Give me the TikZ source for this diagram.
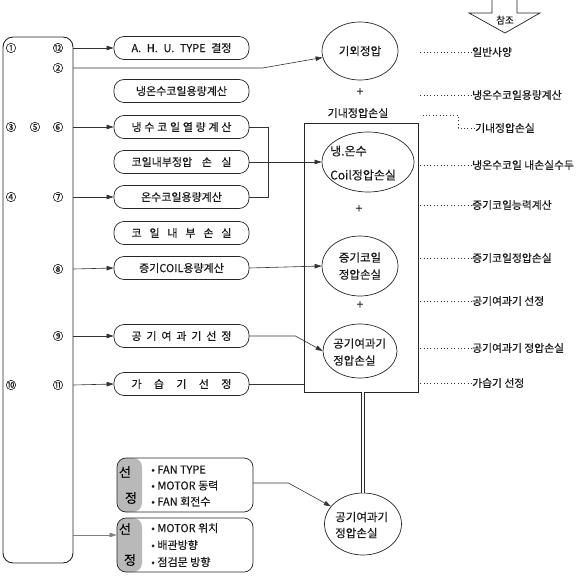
\documentclass[tikz,border=0pt]{standalone}
\usepackage{fontspec}
\setmainfont{Noto Sans CJK KR}[FakeBold=0.4]
\usetikzlibrary{shapes.geometric,arrows.meta,calc}
\begin{document}
\begin{tikzpicture}[x=1pt,y=-1pt,
  every node/.style={text=black!90},
  pill/.style={draw=black!85, rounded corners=10pt, minimum width=135pt, minimum height=23pt, inner sep=0pt, font=\fontsize{11}{12}\selectfont, line width=0.7pt},
  ell/.style={draw=black!85, ellipse, inner sep=0pt, line width=0.7pt},
  etext/.style={font=\fontsize{11.5}{17}\selectfont, align=left, inner sep=0pt},
  num/.style={font=\fontsize{10.5}{11}\selectfont, inner sep=0pt},
  con/.style={line width=0.6pt, draw=black!80},
  arr/.style={con, -{Triangle[length=7pt,width=4.5pt]}},
  lab/.style={anchor=west, font=\fontsize{10.8}{12}\selectfont, inner sep=0pt},
  dots/.style={line width=0.8pt, draw=black!80, dash pattern=on 0.8pt off 2.6pt},
  selbox/.style={draw=black!85, rounded corners=9pt, minimum width=136pt, minimum height=54pt, inner sep=0pt, line width=0.7pt,
    path picture={\fill[gray!55] (path picture bounding box.south west) rectangle ($(path picture bounding box.north west)+(25,0)$);}},
  seltxt/.style={font=\fontsize{13}{13}\selectfont, inner sep=0.5pt, text=black},
  bullets/.style={anchor=west, align=left, inner sep=0pt},
]
\useasboundingbox (0,0) rectangle (580,575);

% reference arrow
\draw[line width=0.7pt, draw=black!85, fill=white] (492,-2) -- (492,13) -- (469,13) -- (505,33) -- (540,13) -- (517,13) -- (517,-2);
\node[font=\fontsize{9.5}{10}\selectfont, inner sep=0pt] (ref) at (505,20) {참조};

% left tall box
\node[draw=black!85, rounded corners=10pt, line width=0.9pt, minimum width=70pt, minimum height=526pt, inner sep=0pt] (L) at (38,300) {};

\node[num] (c1) at (11,48) {①};
\node[num] (c12) at (58,48) {⑫};
\node[num] (c2) at (58,68) {②};
\node[num] (c3) at (11,127) {③};
\node[num] (c5) at (35,127) {⑤};
\node[num] (c6) at (58,127) {⑥};
\node[num] (c4) at (11,197) {④};
\node[num] (c7) at (58,197) {⑦};
\node[num] (c8) at (58,269) {⑧};
\node[num] (c9) at (58,336) {⑨};
\node[num] (c10) at (11,385) {⑩};
\node[num] (c11) at (58,385) {⑪};

% pills
\node[pill] (pA) at (181.5,48) {\makebox[100pt][s]{A.\hfill H.\hfill U.\hfill TYPE\hfill 결정}};
\node[pill] (pB) at (181.5,91) {냉온수코일용량계산};
\node[pill] (pC) at (181.5,127) {\makebox[100pt][s]{냉\hfill 수\hfill 코\hfill 일\hfill 열\hfill 량\hfill 계\hfill 산}};
\node[pill] (pD) at (181.5,162) {\makebox[100pt][s]{코일내부정압\hfill 손\hfill 실}};
\node[pill] (pE) at (181.5,197) {온수코일용량계산};
\node[pill] (pF) at (181.5,233) {\makebox[100pt][s]{코\hfill 일\hfill 내\hfill 부\hfill 손\hfill 실}};
\node[pill] (pG) at (181.5,268) {증기COIL용량계산};
\node[pill] (pH) at (181.5,336) {\makebox[100pt][s]{공\hfill 기\hfill 여\hfill 과\hfill 기\hfill 선\hfill 정}};
\node[pill] (pI) at (181.5,384) {\makebox[100pt][s]{가\hfill 습\hfill 기\hfill 선\hfill 정}};

% top ellipse
\node[ell, minimum width=76pt, minimum height=58pt] (e1) at (360,51) {};
\node[etext] (e1t) at (e1) {기외정압};
\node[font=\fontsize{12}{12}\selectfont, inner sep=0pt] (plus1) at (360,92) {+};
\node[font=\fontsize{11}{12}\selectfont, inner sep=0pt] (gn) at (358,113) {기내정압손실};

% big rectangle
\node[draw=black!85, line width=0.8pt, minimum width=114pt, minimum height=269pt, inner sep=0pt] (R) at (361,257.5) {};

\node[ell, minimum width=92pt, minimum height=60pt] (e2) at (368,162) {};
\node[etext, anchor=west, font=\fontsize{12}{24}\selectfont] (e2t) at (330,163) {냉.온수\\Coil정압손실};
\node[font=\fontsize{12}{12}\selectfont, inner sep=0pt] (plus2) at (359,209) {+};
\node[ell, minimum width=76pt, minimum height=60pt] (e3) at (360,266) {};
\node[etext, align=center] (e3t) at (e3) {증기코일\\정압손실};
\node[font=\fontsize{12}{12}\selectfont, inner sep=0pt] (plus3) at (360,305) {+};
\node[ell, minimum width=74pt, minimum height=54pt] (e4) at (360,351) {};
\node[etext, anchor=west] (e4t) at (333,352) {공기여과기\\정압손실};

% bottom ellipse
\node[ell, minimum width=77pt, minimum height=62pt] (e5) at (363,524) {};
\node[etext, anchor=west, font=\fontsize{11.5}{16}\selectfont] (e5t) at (335,525) {공기여과기\\정압손실};

% selection boxes
\node[selbox] (S1) at (185,485) {};
\node[seltxt] (s1a) at (125,472) {선};
\node[seltxt] (s1b) at (131,498) {정};
\node[bullets, font=\fontsize{11}{16}\selectfont] (s1l) at (151,486) {• FAN TYPE\\• MOTOR 동력\\• FAN 회전수};
\node[selbox] (S2) at (185,545) {};
\node[seltxt] (s2a) at (125,529) {선};
\node[seltxt] (s2b) at (130,560) {정};
\node[bullets, font=\fontsize{11}{17}\selectfont] (s2l) at (151,545) {• MOTOR 위치\\• 배관방향\\• 점검문 방향};

% connectors from left box
\draw[arr] (c12 -| L.east) -- (pA.west);
\draw[arr] (c2 -| L.east) -- ++(189,0) -- (e1);
\draw[arr] (c6 -| L.east) -- (pC.west);
\draw[arr] (c7 -| L.east) -- (pE.west);
\draw[arr] (c8 -| L.east) -- (pG.west);
\draw[arr] (c9 -| L.east) -- (pH.west);
\draw[arr] (c11 -| L.east) -- (pI.west);
\coordinate (s2in) at ($(S2.west)+(0,-10)$);
\draw[arr, draw=black!50] (s2in -| L.east) -- (s2in);

% connectors to the right
\draw[con] (pC.east) -- ++(19,0) |- (pE.east);
\draw[arr] (pD.east) -- (e2.west);
\draw[arr] (pG.east) -- (e3.west);
\draw[arr] (pH.east) -- ++(46,0) -- (e4.west);
\draw[con] (pI.east) -- (pI.east -| R.west);
\draw[arr] ($(S1.east)+(0,-2)$) -- ++(35,0) -- (e5);
\draw[double=white, double distance=2.6pt, line width=0.7pt, draw=black!85] (e5 |- R.south) -- (e5.north);

% reference labels
\node[lab] (r1) at (472,52) {일반사양};
\draw[dots] (r1.west) -- ++(-52,0);
\node[lab] (r2) at (472,95) {냉온수코일용량계산};
\draw[dots] (r2.west) -- ++(-52,0);
\node[lab] (r3) at (475,128) {기내정압손실};
\draw[dots] (r3.west) -- ++(-17,0) |- ++(-38,-13);
\node[lab] (r4) at (472,165) {냉온수코일 내손실수두};
\draw[dots] (r4.west) -- ++(-52,0);
\node[lab] (r5) at (472,205) {증기코일능력계산};
\draw[dots] (r5.west) -- ++(-52,0);
\node[lab] (r6) at (472,258) {증기코일정압손실};
\draw[dots] (r6.west) -- ++(-52,0);
\node[lab] (r7) at (472,301) {공기여과기 선정};
\draw[dots] (r7.west) -- ++(-52,0);
\node[lab] (r8) at (472,348) {공기여과기 정압손실};
\draw[dots] (r8.west) -- ++(-52,0);
\node[lab] (r9) at (472,383) {가습기 선정};
\draw[dots] (r9.west) -- ++(-52,0);
\end{tikzpicture}
\end{document}
